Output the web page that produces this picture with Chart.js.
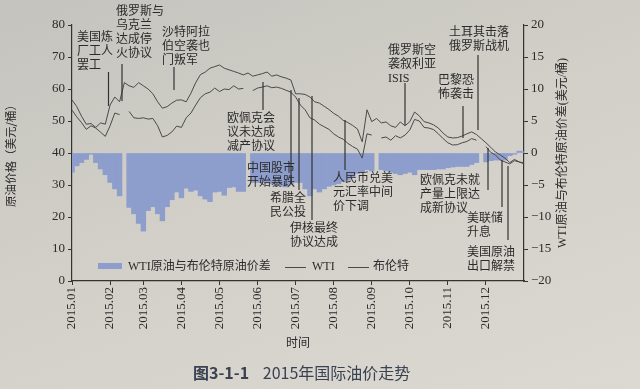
<!DOCTYPE html>
<html lang="zh-CN">
<head>
<meta charset="utf-8">
<title>2015年国际油价走势</title>
<script src="https://cdn.jsdelivr.net/npm/chart.js@4.4.1/dist/chart.umd.min.js"></script>
<style>
  html, body { margin: 0; padding: 0; }
  body {
    width: 640px; height: 389px; overflow: hidden; position: relative;
    background: linear-gradient(160deg, #c4c3bd 0%, #d1cfc8 45%, #dbd9d1 100%);
  }
  #chart { position: absolute; left: 0; top: 0; }
  .caption {
    position: absolute; top: 361px; left: 193px; line-height: 22px;
    font-family: "Noto Sans CJK SC", sans-serif; font-size: 16px;
    color: #3a4252; white-space: nowrap;
  }
  .caption b { font-weight: 700; margin-right: 10px; }
</style>
</head>
<body>
<canvas id="chart" width="640" height="389"></canvas>
<div class="caption"><b>图3-1-1</b> 2015年国际油价走势</div>
<script>
// month tick labels and the point index where each month starts
const monthLabels = ['2015.01', '2015.02', '2015.03', '2015.04', '2015.05', '2015.06',
                     '2015.07', '2015.08', '2015.09', '2015.10', '2015.11', '2015.12'];
const monthStart = [0, 8, 15, 23, 31, 39, 47, 55, 63, 71, 79, 87];
const pointCount = 96;

// Brent, USD/bbl (left axis)
const brent = [
  56.6, 54.5, 51.5, 49, 49.2, 48, 49.4, 49, 55, 57.5,
  56, 62, 61, 60.5, 62, 61, 60, 58.5, 56, 54,
  54.5, 55.6, 56.5, 56.6, 56, 58.7, 62, 64.5, 65.3, 66.5,
  67, 67.5, 66.5, 66, 65.5, 65, 64.4, 65, 64, 64.4,
  64.8, 65.3, 64, 64.4, 63.8, 63.4, 62.8, 58.5, 58.5, 58.3,
  57.5, 56, 55.6, 54.6, 53.6, 52.4, 51.5, 50.2, 49.5, 48.6,
  47.5, 43.5, 53.5, 49.8, 50.8, 49.4, 49.7, 48.5, 48, 49.7,
  48.5, 49.8, 52.8, 51.6, 49.8, 49.4, 48.8, 47.8, 46.2, 45,
  44.7, 44.8, 45.3, 46, 46.6, 45.8, 44.5, 43.2, 41.8, 40.3,
  39.4, 38.4, 37, 38, 37.2, 36.6
];

// WTI, USD/bbl (left axis)
const wti = [
  53.4, 51.3, 49.5, 47.4, 48.5, 47.8, 46.5, 45.2, 48.5, 52.5,
  52, null, 53, 51, 50.8, 51, 50.6, 50.8, 48.5, 45,
  45.5, 46.6, 48.4, 48, 51, 52.5, 55, 57.3, 58.5, 59,
  60.3, 59.2, 60, 59.8, 61, 60, 60.2, null, 59.5, 60.3,
  60.6, 61, 60.4, 60.6, 60.2, 59.6, 59, 57.5, 55, 53.5,
  51, 50.3, 49, 48.2, 47.4, 46, 45, 44.3, 43, 42,
  41.2, 38.4, 46, 45.6, null, 44.7, 45, 44, 45.4, 44.7,
  45.6, 47.2, 50.5, 50, 48, 47.8, 47.3, 46, 44.5, 43.2,
  42.5, 42.6, 43.2, 43.6, 44.5, 44, null, 42, 40.2, 39.4,
  37.8, 37.2, 36.6, 37.6, 37.2, 36.9
];

// WTI minus Brent, USD/bbl (right axis)
const spread = [
  -3, -2, -1.5, -1, -0.2, -1.5, -2.5, -3.4, -4.6, -5.6,
  -6.7, null, -8.5, -9.5, -11, -12.2, -9, -8.4, -9.5, -10.6,
  -8.4, -7.3, -6.1, -7, -5.5, -6, -5.8, -6.7, -7.2, -7.6,
  -6.1, -6, -6.6, -5.4, -5.3, -6, -6, null, -4.6, -4.6,
  -4.6, -4.7, -4.8, -5, -5.2, -5.3, -5, -4.6, -4.6, -5.6,
  -6.7, -5.6, -6.1, -5.6, -5.2, -5, -4.8, -4.5, -4.2, -3.8,
  -3.2, -3, -2.6, -2.8, null, -2.6, -2.8, -3, -3.2, -3.4,
  -3.2, -3, -3.4, -2.6, -2.6, -2.6, -2.6, -2.5, -2.5, -2.3,
  -2.2, -2.1, -2.1, -2.1, -1.8, -1.5, null, -1.4, -1.2, -1.1,
  -1.1, -1.1, -0.4, -0.2, 0.3, 0.2
];

// event notes: text lines, text box top-left, leader line x and y range (px)
const notes = [
  { lines: ['美国炼', '厂工人', '罢工'], x: 77, y: 32, lx: 108.5, ly: [72, 106] },
  { lines: ['俄罗斯与', '乌克兰', '达成停', '火协议'], x: 116, y: 6, lx: 122, ly: [64, 101] },
  { lines: ['沙特阿拉', '伯空袭也', '门叛军'], x: 162, y: 27, lx: 174, ly: [67, 90] },
  { lines: ['欧佩克会', '议未达成', '减产协议'], x: 227, y: 113, lx: 263, ly: [82, 110] },
  { lines: ['中国股市', '开始暴跌'], x: 247, y: 163, lx: 291, ly: [90, 184] },
  { lines: ['希腊全', '民公投'], x: 270, y: 193, lx: 299, ly: [98, 190] },
  { lines: ['伊核最终', '协议达成'], x: 290, y: 223, lx: 312, ly: [96, 220] },
  { lines: ['人民币兑美', '元汇率中间', '价下调'], x: 333, y: 173, lx: 345, ly: [120, 170] },
  { lines: ['俄罗斯空', '袭叙利亚', 'ISIS'], x: 388, y: 45, lx: 405, ly: [83, 125] },
  { lines: ['巴黎恐', '怖袭击'], x: 438, y: 75, lx: 463, ly: [106, 138] },
  { lines: ['土耳其击落', '俄罗斯战机'], x: 449, y: 27, lx: 478, ly: [55, 130] },
  { lines: ['欧佩克未就', '产量上限达', '成新协议'], x: 420, y: 175, lx: 488, ly: [148, 190] },
  { lines: ['美联储', '升息'], x: 467, y: 213, lx: 502, ly: [160, 207] },
  { lines: ['美国原油', '出口解禁'], x: 467, y: 247, lx: 508, ly: [166, 240] }
];

const labels = [];
for (let i = 0; i < pointCount; i++) {
  const m = monthStart.indexOf(i);
  labels.push(m >= 0 ? monthLabels[m] : '');
}

const INK = '#2b2b2b';
const LINE = '#4a4a4a';
const BAR = '#8d9dcc';
const SERIF = '"Liberation Serif", "Noto Sans CJK SC", serif';
const CJK = '"Noto Sans CJK SC", sans-serif';

const extras = {
  id: 'extras',
  afterDraw(chart) {
    const ctx = chart.ctx;
    ctx.save();

    // leader lines + note text
    ctx.strokeStyle = '#333';
    ctx.lineWidth = 1.2;
    notes.forEach(n => {
      ctx.beginPath();
      ctx.moveTo(n.lx, n.ly[0]);
      ctx.lineTo(n.lx, n.ly[1]);
      ctx.stroke();
    });
    ctx.fillStyle = INK;
    ctx.font = '12px ' + SERIF;
    ctx.textBaseline = 'top';
    ctx.textAlign = 'left';
    notes.forEach(n => {
      n.lines.forEach((t, k) => ctx.fillText(t, n.x, n.y + k * 14));
    });

    // legend inside the plot
    ctx.textBaseline = 'middle';
    ctx.fillStyle = BAR;
    ctx.fillRect(98, 263, 24, 6);
    ctx.fillStyle = INK;
    ctx.fillText('WTI原油与布伦特原油价差', 128, 267);
    ctx.strokeStyle = LINE;
    ctx.lineWidth = 1;
    ctx.beginPath();
    ctx.moveTo(285, 267.5); ctx.lineTo(306, 267.5);
    ctx.moveTo(348, 267.5); ctx.lineTo(369, 267.5);
    ctx.stroke();
    ctx.fillText('WTI', 312, 267);
    ctx.fillText('布伦特', 373, 267);

    // right axis title, reading bottom to top
    ctx.translate(563, 153);
    ctx.rotate(-Math.PI / 2);
    ctx.textAlign = 'center';
    ctx.fillText('WTI原油与布伦特原油价差(美元/桶)', 0, 0);
    ctx.restore();
  }
};

const ctx = document.getElementById('chart').getContext('2d');
new Chart(ctx, {
  type: 'bar',
  data: {
    labels: labels,
    datasets: [
      {
        type: 'line',
        label: 'WTI',
        data: wti,
        yAxisID: 'y',
        borderColor: LINE,
        borderWidth: 1,
        pointRadius: 0,
        tension: 0,
        spanGaps: false,
        order: 1
      },
      {
        type: 'line',
        label: '布伦特',
        data: brent,
        yAxisID: 'y',
        borderColor: LINE,
        borderWidth: 1,
        pointRadius: 0,
        tension: 0,
        spanGaps: false,
        order: 1
      },
      {
        label: 'WTI原油与布伦特原油价差',
        data: spread,
        yAxisID: 'y1',
        backgroundColor: BAR,
        borderWidth: 0,
        barPercentage: 1,
        categoryPercentage: 1,
        order: 2
      }
    ]
  },
  options: {
    responsive: false,
    animation: false,
    devicePixelRatio: 1,
    layout: { padding: { left: 0, right: 0, top: 25, bottom: 35 } },
    plugins: { legend: { display: false }, tooltip: { enabled: false } },
    scales: {
      x: {
        type: 'category',
        offset: false,
        grid: { drawOnChartArea: false, offset: false, tickLength: 4, color: '#333' },
        border: { color: '#333', width: 1.2 },
        ticks: {
          autoSkip: false, minRotation: 90, maxRotation: 90, padding: 2,
          color: INK, font: { family: SERIF, size: 13 },
          callback: (v, i) => labels[i] || null
        },
        title: { display: true, text: '时间', color: INK, font: { family: CJK, size: 12 }, padding: { top: 4, bottom: 4 } },
        afterFit: s => { s.height = 73; }
      },
      y: {
        position: 'left',
        min: 0, max: 80,
        grid: { drawOnChartArea: false, tickLength: 4, color: '#333' },
        border: { color: '#333', width: 1.2 },
        ticks: { stepSize: 10, padding: 3, color: INK, font: { family: SERIF, size: 13 } },
        title: { display: true, text: '原油价格（美元/桶）', color: INK, font: { family: CJK, size: 11.5 }, padding: { top: 4, bottom: 4 } },
        afterFit: s => { s.width = 72; }
      },
      y1: {
        position: 'right',
        min: -20, max: 20,
        grid: { drawOnChartArea: false, tickLength: 4, color: '#333' },
        border: { color: '#333', width: 1.2 },
        ticks: {
          stepSize: 5, padding: 3, color: INK, font: { family: SERIF, size: 13 },
          callback: v => (v < 0 ? '\u2212' + Math.abs(v) : String(v))
        },
        afterFit: s => { s.width = 116; }
      }
    }
  },
  plugins: [extras]
});
</script>
</body>
</html>
